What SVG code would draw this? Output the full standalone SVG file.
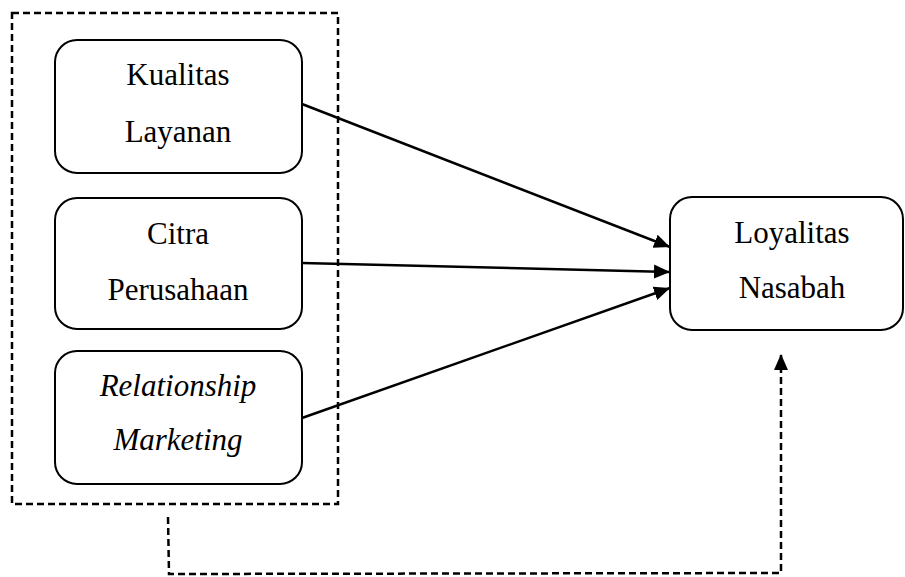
<svg xmlns="http://www.w3.org/2000/svg" width="905" height="577" viewBox="0 0 905 577">
<style>
.box{fill:#fff;stroke:#000;stroke-width:2}
.lbl{font-family:"Liberation Serif","Times New Roman",serif;font-size:31px;fill:#000;text-anchor:middle}
.it{font-style:italic}
.dash{fill:none;stroke:#000;stroke-width:2.5;stroke-dasharray:7,4}
.arr{fill:none;stroke:#000;stroke-width:2.5}
</style>
<defs>
<marker id="ah" viewBox="0 0 16 16" refX="16" refY="8" markerWidth="16" markerHeight="16" markerUnits="userSpaceOnUse" orient="auto">
<path d="M0,1 L16,8 L0,15 Z" fill="#000"/>
</marker>
</defs>
<g id="group-box">
<rect class="dash" x="12" y="13" width="326" height="491"/>
</g>
<g id="kualitas">
<rect class="box" x="55" y="40" width="247" height="133" rx="22"/>
<text class="lbl" x="178" y="85">Kualitas</text>
<text class="lbl" x="178" y="142">Layanan</text>
</g>
<g id="citra">
<rect class="box" x="55" y="198" width="247" height="131" rx="22"/>
<text class="lbl" x="178" y="244">Citra</text>
<text class="lbl" x="178" y="300">Perusahaan</text>
</g>
<g id="relationship">
<rect class="box" x="55" y="351" width="247" height="133" rx="22"/>
<text class="lbl it" x="178" y="396">Relationship</text>
<text class="lbl it" x="178" y="450">Marketing</text>
</g>
<g id="loyalitas">
<rect class="box" x="670" y="197" width="233" height="133" rx="22"/>
<text class="lbl" x="792" y="243">Loyalitas</text>
<text class="lbl" x="792" y="298">Nasabah</text>
</g>
<g id="connectors">
<line class="arr" x1="302" y1="104" x2="670" y2="247" marker-end="url(#ah)"/>
<line class="arr" x1="302" y1="263" x2="670" y2="272" marker-end="url(#ah)"/>
<line class="arr" x1="302" y1="418" x2="670" y2="288" marker-end="url(#ah)"/>
<polyline class="dash" points="168,517 169,574 781,573 781,354" marker-end="url(#ah)"/>
</g>
</svg>
